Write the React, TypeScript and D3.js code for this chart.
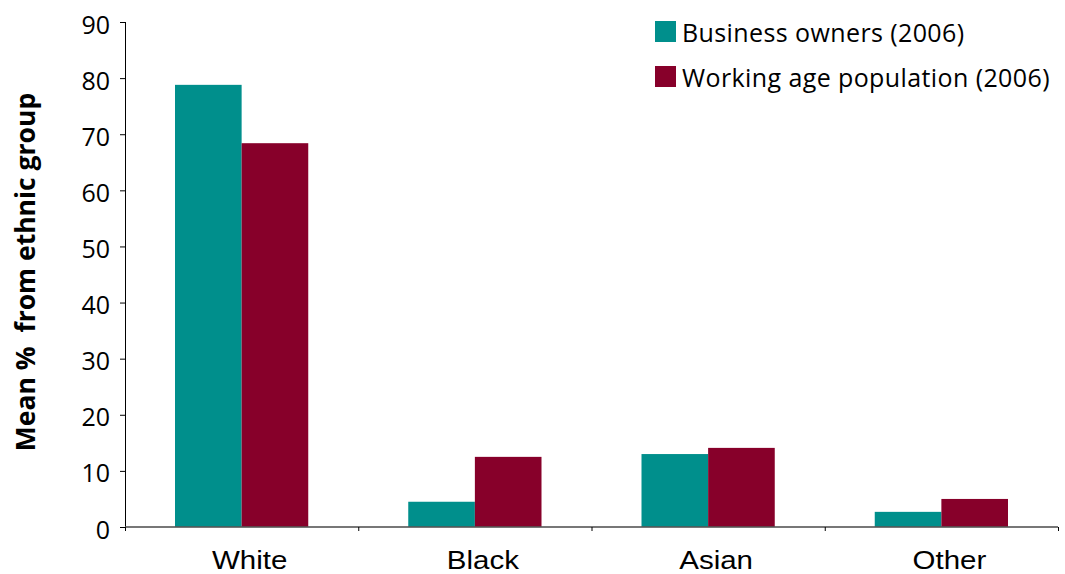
import React from "react";
import * as d3 from "d3";

const categories = ["White", "Black", "Asian", "Other"];
const seriesNames = ["Business owners (2006)", "Working age population (2006)"];
const businessOwners = [78.8, 4.5, 13.0, 2.7];
const workingAge = [68.4, 12.5, 14.1, 5.0];
const yTicks = [0, 10, 20, 30, 40, 50, 60, 70, 80, 90];
const colors = ["#008F8C", "#87002A"];

export default function App() {
  const W = 1065, H = 574;
  const left = 125, right = 1058, top = 22, bottom = 527;
  const x = d3.scaleBand<string>().domain(categories).range([left, right]).paddingInner(0).paddingOuter(0);
  const inner = d3.scaleBand<number>().domain([0, 1]).range([50, x.bandwidth() - 50]);
  const y = d3.scaleLinear().domain([0, 90]).range([bottom, top]);
  const series = [businessOwners, workingAge];
  const numFont = "'Open Sans', 'Noto Sans', sans-serif";
  return (
    <div style={{ position: "absolute", left: 0, top: 0 }}>
      <svg width={W} height={H} style={{ display: "block", background: "#fff" }}>
        {categories.map((c, i) =>
          series.map((s, k) => (
            <rect key={c + k} x={(x(c) as number) + (inner(k) as number)} y={y(s[i])}
              width={inner.bandwidth()} height={y(0) - y(s[i])} fill={colors[k]} />
          ))
        )}
        {/* y axis */}
        <line x1={left + 0.5} x2={left + 0.5} y1={top} y2={bottom} stroke="#000" strokeWidth={1} />
        {yTicks.map(t => (
          <g key={t}>
            <line x1={left - 5} x2={left} y1={y(t) + 0.5} y2={y(t) + 0.5} stroke="#000" />
            <text x={110} y={y(t) + 2.5} dy="0.36em" textAnchor="end" fontFamily={numFont} fontSize={25} fill="#000">{t}</text>
          </g>
        ))}
        {/* x axis */}
        <line x1={left} x2={right} y1={bottom} y2={bottom} stroke="#555" strokeOpacity={0.8} strokeWidth={2} />
        {[...categories.map(c => x(c) as number), right].map((v, i) => (
          <line key={i} x1={v + 0.5} x2={v + 0.5} y1={bottom} y2={bottom + 4} stroke="#000" />
        ))}
        {categories.map(c => {
          const cx = (x(c) as number) + x.bandwidth() / 2 + 8;
          return (
            <text key={c} transform={`translate(${cx},569) scale(1.18,1)`} textAnchor="middle"
              fontFamily="'Liberation Sans', Arial, sans-serif" fontSize={25} fill="#000">{c}</text>
          );
        })}
        {/* y title */}
        <text transform={`translate(35,272) rotate(-90)`} textAnchor="middle" style={{ whiteSpace: "pre" }}
          fontFamily={numFont} fontWeight="bold" fontSize={26.5} fill="#000">{"Mean %  from ethnic group"}</text>
        {/* legend */}
        {seriesNames.map((n, k) => (
          <g key={n}>
            <rect x={655} y={21 + k * 45} width={21} height={21} fill={colors[k]} />
            <text x={682} y={42 + k * 45} fontFamily={numFont} fontSize={25} letterSpacing={0.4} fill="#000">{n}</text>
          </g>
        ))}
      </svg>
    </div>
  );
}
